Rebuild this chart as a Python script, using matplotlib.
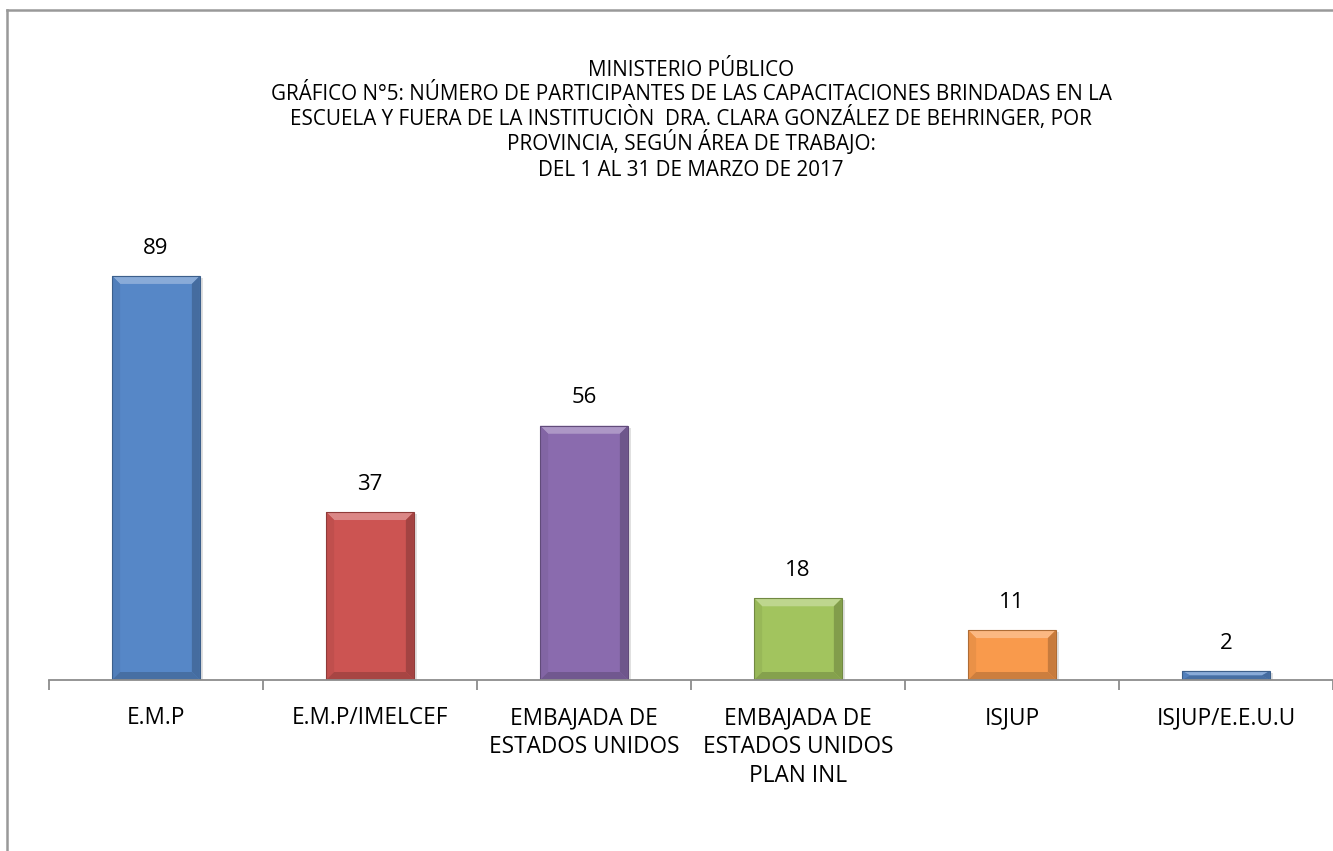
import matplotlib
matplotlib.use("Agg")
import matplotlib.pyplot as plt
from matplotlib.lines import Line2D
from matplotlib.patches import Polygon
from matplotlib.colors import to_rgb

plt.rcParams['font.family'] = ['Open Sans', 'DejaVu Sans']

categorias = ["E.M.P", "E.M.P/IMELCEF", "EMBAJADA DE\nESTADOS UNIDOS",
              "EMBAJADA DE\nESTADOS UNIDOS\nPLAN INL", "ISJUP", "ISJUP/E.E.U.U"]
valores = [89, 37, 56, 18, 11, 2]
colores = ["#5687C7", "#CC5452", "#8A6BAE", "#A2C45E", "#F99A4C", "#5687C7"]

lineas_titulo = [
    "MINISTERIO PÚBLICO",
    "GRÁFICO N°5: NÚMERO DE PARTICIPANTES DE LAS CAPACITACIONES BRINDADAS EN LA",
    "ESCUELA Y FUERA DE LA INSTITUCIÒN  DRA. CLARA GONZÁLEZ DE BEHRINGER, POR",
    "PROVINCIA, SEGÚN ÁREA DE TRABAJO:",
    "DEL 1 AL 31 DE MARZO DE 2017",
]


def mezcla(color, otro, t):
    c, o = to_rgb(color), to_rgb(otro)
    return tuple(a + (b - a) * t for a, b in zip(c, o))


W, H = 1333, 851
fig = plt.figure(figsize=(W / 100, H / 100), dpi=100)

# marco del gráfico (solo se ven el borde izquierdo y el superior)
fig.add_artist(Line2D([7 / W, 7 / W], [0, 1 - 10 / H], color="#999999", lw=1.8))
fig.add_artist(Line2D([7 / W, 1], [1 - 10 / H, 1 - 10 / H], color="#999999", lw=1.8))

ax_left = 49 / W
ax_bottom = 1 - 680 / H
ax_top = 1 - 226 / H
ax = fig.add_axes([ax_left, ax_bottom, 1.0 - ax_left, ax_top - ax_bottom])

x = list(range(len(valores)))
ax.set_xlim(-0.5, len(valores) - 0.5)
ax.set_ylim(0, 100)

barras = ax.bar(x, valores, width=0.41, color=colores, linewidth=0, zorder=3)

# efecto biselado de Excel
px_x = 1.0 / 214          # unidades de categoría por pixel
px_y = 100.0 / 454        # unidades de valor por pixel
for b, c in zip(barras, colores):
    x0, w, h = b.get_x(), b.get_width(), b.get_height()
    x1 = x0 + w
    bx = min(8 * px_x, w / 2)
    by = min(8 * px_y, h / 2)
    # sombra
    ax.add_patch(Polygon([(x0 + 2 * px_x, -0.1), (x1 + 3 * px_x, -0.1), (x1 + 3 * px_x, h - 2 * px_y),
                          (x0 + 2 * px_x, h - 2 * px_y)], closed=True,
                         facecolor="#000000", alpha=0.12, lw=0, zorder=2))
    ax.add_patch(Polygon([(x0, h), (x1, h), (x1 - bx, h - by), (x0 + bx, h - by)],
                         closed=True, facecolor=mezcla(c, "white", 0.3), lw=0, zorder=4))
    ax.add_patch(Polygon([(x0, 0), (x0 + bx, by), (x0 + bx, h - by), (x0, h)],
                         closed=True, facecolor=mezcla(c, "black", 0.06), lw=0, zorder=4))
    ax.add_patch(Polygon([(x1, 0), (x1 - bx, by), (x1 - bx, h - by), (x1, h)],
                         closed=True, facecolor=mezcla(c, "black", 0.2), lw=0, zorder=4))
    ax.add_patch(Polygon([(x0, 0), (x1, 0), (x1 - bx, by), (x0 + bx, by)],
                         closed=True, facecolor=mezcla(c, "black", 0.18), lw=0, zorder=4))
    ax.add_patch(Polygon([(x0, 0), (x1, 0), (x1, h), (x0, h)], closed=True, fill=False,
                         edgecolor=mezcla(c, "black", 0.3), lw=0.8, zorder=5))

for xi, v in zip(x, valores):
    ax.annotate(str(v), (xi, v), xytext=(0, 20), textcoords="offset points",
                ha="center", va="center", fontsize=16, color="#000000")

ax.set_yticks([])
for s in ["top", "right", "left"]:
    ax.spines[s].set_visible(False)
ax.spines["bottom"].set_color("#8c8c8c")
ax.spines["bottom"].set_linewidth(1.3)
ax.spines["bottom"].set_zorder(6)

ax.set_xticks([i - 0.5 for i in range(len(valores) + 1)], minor=False)
ax.set_xticklabels([])
ax.tick_params(axis="x", direction="out", length=7, color="#8c8c8c", width=1.3)
ax.set_xticks(x, minor=True)
ax.set_xticklabels(categorias, minor=True, fontsize=16.3, linespacing=1.28, va="top")
ax.tick_params(axis="x", which="minor", length=0, pad=19)

cx = (49 + 1333) / 2 / W
for i, linea in enumerate(lineas_titulo):
    fig.text(cx, 1 - (75.5 + 25 * i) / H, linea, ha="center", va="baseline", fontsize=14.9)

fig.savefig("out.png", dpi=100)
